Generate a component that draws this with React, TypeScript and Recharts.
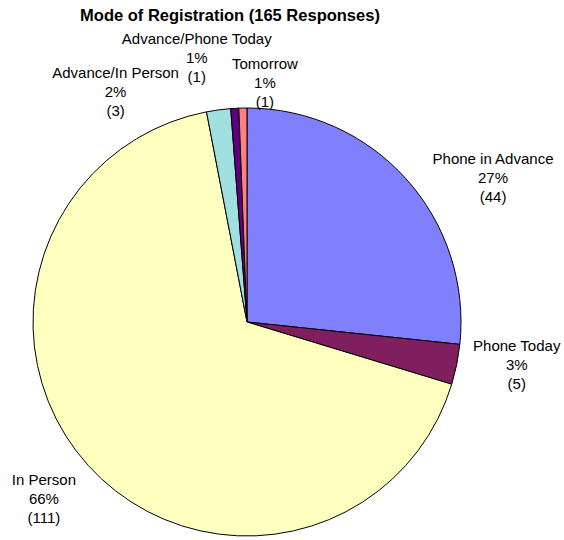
import { PieChart, Pie, Cell } from "recharts";

const categories = [
  "Phone in Advance",
  "Phone Today",
  "In Person",
  "Advance/In Person",
  "Advance/Phone Today",
  "Tomorrow",
];
const counts = [44, 5, 111, 3, 1, 1];
const pctLabels = ["27%", "3%", "66%", "2%", "1%", "1%"];

const colors = ["#8080FF", "#7F1F5F", "#FFFFC0", "#A0E0E0", "#600080", "#FF8080"];
// where each label block sits, relative to the slice's outer edge point
const labelOffsets = [
  [87, -1.5],
  [60, 0],
  [-44, 33],
  [-103, -18],
  [-38, -51],
  [22, -25.5],
];

const data = categories.map((name, i) => ({ name, value: counts[i], pct: pctLabels[i] }));

const RADIAN = Math.PI / 180;

const renderLabel = (props: any) => {
  const { cx, cy, midAngle, outerRadius, index } = props;
  const ex = cx + outerRadius * Math.cos(-midAngle * RADIAN);
  const ey = cy + outerRadius * Math.sin(-midAngle * RADIAN);
  const [dx, dy] = labelOffsets[index];
  const x = ex + dx;
  const y = ey + dy + 5.5;
  return (
    <text
      x={x}
      y={y}
      textAnchor="middle"
      fontFamily="Liberation Sans, Arial, sans-serif"
      fontSize={15}
      fill="#000"
    >
      <tspan x={x} y={y - 19}>{categories[index]}</tspan>
      <tspan x={x} y={y}>{pctLabels[index]}</tspan>
      <tspan x={x} y={y + 19}>({counts[index]})</tspan>
    </text>
  );
};

export default function App() {
  return (
    <div style={{ position: "absolute", left: 0, top: 0, width: 564, height: 540, background: "#fff" }}>
      <PieChart width={564} height={540} margin={{ top: 0, right: 0, bottom: 0, left: 0 }}>
        <text
          x={230}
          y={21}
          textAnchor="middle"
          fontFamily="Liberation Sans, Arial, sans-serif"
          fontSize={16.5}
          fontWeight="bold"
          fill="#000"
        >
          Mode of Registration (165 Responses)
        </text>
        <Pie
          data={data}
          dataKey="value"
          nameKey="name"
          cx={247}
          cy={322}
          outerRadius={214}
          startAngle={90}
          endAngle={-270}
          stroke="#000"
          strokeWidth={1}
          label={renderLabel}
          labelLine={false}
          isAnimationActive={false}
        >
          {data.map((d, i) => (
            <Cell key={d.name} fill={colors[i]} />
          ))}
        </Pie>
      </PieChart>
    </div>
  );
}
